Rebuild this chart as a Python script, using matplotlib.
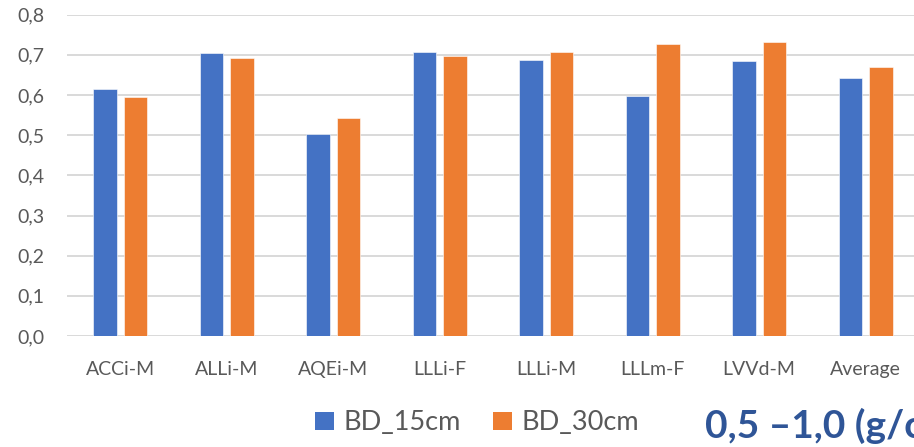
import matplotlib.pyplot as plt
from matplotlib.patches import Patch
import numpy as np

# data
sites = ["ACCi-M", "ALLi-M", "AQEi-M", "LLLi-F", "LLLi-M", "LLLm-F", "LVVd-M", "Average"]
bd_15cm = [0.615, 0.704, 0.503, 0.706, 0.687, 0.597, 0.685, 0.642]
bd_30cm = [0.595, 0.692, 0.542, 0.697, 0.706, 0.726, 0.732, 0.670]
series_names = ["BD_15cm", "BD_30cm"]
y_ticks = [0.0, 0.1, 0.2, 0.3, 0.4, 0.5, 0.6, 0.7, 0.8]
note = "0,5 \u20131,0 (g/cm\u00b3)"

blue = "#4472C4"
orange = "#ED7D31"
grid_col = "#D9D9D9"
text_col = "#595959"

plt.rcParams["font.family"] = ["Lato", "DejaVu Sans"]

fig = plt.figure(figsize=(9.14, 4.47), dpi=100)
ax = fig.add_axes([0.0733, 0.2483, 0.932, 0.7188])

x = np.arange(len(sites))
w = 0.222
off = 0.143
ax.bar(x - off, bd_15cm, w, color=blue, edgecolor="white", linewidth=0.4, zorder=3)
ax.bar(x + off, bd_30cm, w, color=orange, edgecolor="white", linewidth=0.4, zorder=3)

ax.set_xlim(-0.5, len(sites) - 0.5)
ax.set_ylim(0, 0.8)
ax.set_yticks(y_ticks)
ax.set_yticklabels([("%.1f" % v).replace(".", ",") for v in y_ticks])
ax.set_xticks(x)
ax.set_xticklabels(sites)

ax.grid(axis="y", color=grid_col, linewidth=1.4, zorder=0)
for s in ["top", "right", "left", "bottom"]:
    ax.spines[s].set_visible(False)
ax.tick_params(axis="both", length=0, labelsize=14, labelcolor=text_col)
ax.tick_params(axis="y", pad=16)
ax.tick_params(axis="x", pad=18)

handles = [Patch(facecolor=blue), Patch(facecolor=orange)]
fig.legend(handles, series_names, loc="center", bbox_to_anchor=(0.522, 0.054),
           ncol=2, frameon=False, fontsize=19.5, labelcolor=text_col,
           handlelength=0.68, handleheight=0.68, handletextpad=0.35,
           columnspacing=1.2)

# the note runs off the right edge, as in the original
fig.text(705 / 914, 9 / 447, note, fontsize=28, fontweight="bold",
         color="#2F5597", ha="left", va="baseline")

fig.savefig("out.png", dpi=100)
plt.close("all")
